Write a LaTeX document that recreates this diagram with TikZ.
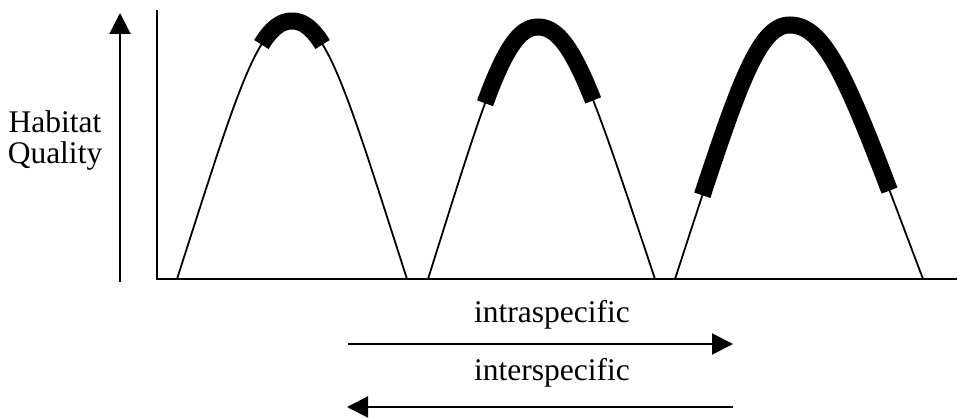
\documentclass[tikz,border=0pt]{standalone}
\usepackage{fontspec}
\setmainfont{Liberation Serif}
\usetikzlibrary{arrows.meta}
\newcommand{\bezpt}[4]{(1-\t)^3*#1+3*(1-\t)^2*\t*#2+3*(1-\t)*\t^2*#3+\t^3*#4}
\begin{document}
\begin{tikzpicture}[x=1pt,y=-1pt,
  axisline/.style={line width=2.4pt},
  curveline/.style={line width=1.8pt},
  thickseg/.style={line width=17pt,line cap=butt,line join=round},
  dirarrow/.style={line width=2pt,-{Triangle[length=21pt,width=21pt]}},
  lbl/.style={font=\fontsize{31.5}{32}\selectfont,anchor=base,inner sep=0pt}]
\useasboundingbox (0,0) rectangle (958,419);
% axes
\coordinate (origin) at (157,279);
\coordinate (ytop) at (157,10);
\coordinate (xend) at (957,279);
\draw[axisline] (ytop) -- (origin) -- (xend);
% quality arrow
\coordinate (qbot) at (120,282);
\coordinate (qtop) at (120,13);
\draw[dirarrow] (qbot) -- (qtop);
\node[lbl] (hab) at (55,133) {Habitat};
\node[lbl] (qual) at (55,164) {Quality};
% curve 1
\coordinate (c1a) at (177,279);
\coordinate (c1p) at (292,21);
\coordinate (c1b) at (407,279);
\draw[curveline] (c1a) .. controls (236.8,93.2) and (257.5,21) .. (c1p)
  .. controls (326.5,21) and (347.2,93.2) .. (c1b);
\draw[thickseg] plot[variable=\t,domain=0.68:1,samples=30,smooth]
   ({\bezpt{177}{236.8}{257.5}{292}},{\bezpt{279}{93.2}{21}{21}})
  -- plot[variable=\t,domain=0:0.32,samples=30,smooth]
   ({\bezpt{292}{326.5}{347.2}{407}},{\bezpt{21}{21}{93.2}{279}});
% curve 2
\coordinate (c2a) at (428,279);
\coordinate (c2p) at (538,27);
\coordinate (c2b) at (655,279);
\draw[curveline] (c2a) .. controls (485.2,97.6) and (505,27) .. (c2p)
  .. controls (573.1,27) and (594.2,97.6) .. (c2b);
\draw[thickseg] plot[variable=\t,domain=0.43:1,samples=30,smooth]
   ({\bezpt{428}{485.2}{505}{538}},{\bezpt{279}{97.6}{27}{27}})
  -- plot[variable=\t,domain=0:0.56,samples=30,smooth]
   ({\bezpt{538}{573.1}{594.2}{655}},{\bezpt{27}{27}{97.6}{279}});
% curve 3
\coordinate (c3a) at (675,279);
\coordinate (c3p) at (790,25);
\coordinate (c3b) at (923,279);
\draw[curveline] (c3a) .. controls (734.8,96.1) and (755.5,25) .. (c3p)
  .. controls (829.9,25) and (853.8,96.1) .. (c3b);
\draw[thickseg] plot[variable=\t,domain=0.17:1,samples=40,smooth]
   ({\bezpt{675}{734.8}{755.5}{790}},{\bezpt{279}{96.1}{25}{25}})
  -- plot[variable=\t,domain=0:0.82,samples=40,smooth]
   ({\bezpt{790}{829.9}{853.8}{923}},{\bezpt{25}{25}{96.1}{279}});
% bottom arrows
\node[lbl] (intra) at (552,323) {intraspecific};
\node[lbl] (inter) at (552,380) {interspecific};
\coordinate (a1s) at (348,344);
\coordinate (a1e) at (733,344);
\coordinate (a2s) at (733,407);
\coordinate (a2e) at (347,407);
\draw[dirarrow] (a1s) -- (a1e);
\draw[dirarrow] (a2s) -- (a2e);
\end{tikzpicture}
\end{document}
